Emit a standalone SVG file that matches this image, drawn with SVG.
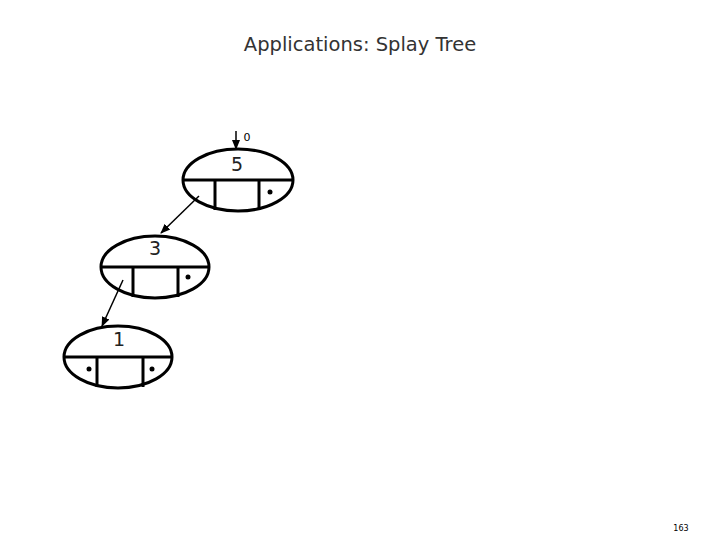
<svg xmlns="http://www.w3.org/2000/svg" width="720" height="540" viewBox="0 0 720 540">
<style>
.el{fill:none;stroke:#000;stroke-width:3}
.ln{stroke:#000;stroke-width:3}
.dot{fill:#000}
.lbl{font-family:"DejaVu Sans",sans-serif;font-size:19px;fill:#222;text-anchor:middle}
.con{stroke:#000;stroke-width:1.5;fill:none}
</style>
<defs>
<marker id="ah" markerWidth="10" markerHeight="10" refX="9" refY="5" orient="auto" markerUnits="userSpaceOnUse">
<path d="M0,1 L10,5 L0,9 Z" fill="#000"/>
</marker>
</defs>
<rect width="720" height="540" fill="#fff"/>
<text x="360" y="51" font-family="DejaVu Sans, sans-serif" font-size="19.5" fill="#333" text-anchor="middle">Applications: Splay Tree</text>
<text x="681" y="531" font-family="DejaVu Sans, sans-serif" font-size="8" fill="#000" text-anchor="middle">163</text>
<g id="connectors">
<line class="con" x1="236" y1="131" x2="236" y2="149" marker-end="url(#ah)" stroke-width="2"/>
<line class="con" x1="199" y1="196" x2="161" y2="233" marker-end="url(#ah)"/>
<line class="con" x1="123" y1="280" x2="102" y2="326" marker-end="url(#ah)"/>
</g>
<g id="root-pointer-label"><text x="247" y="141" font-family="DejaVu Sans, sans-serif" font-size="11" fill="#000" text-anchor="middle">0</text></g>
<g id="node5">
<ellipse class="el" cx="238" cy="180" rx="55" ry="31"/>
<line class="ln" x1="183" y1="180" x2="293" y2="180"/>
<line class="ln" x1="215" y1="180" x2="215" y2="210"/>
<line class="ln" x1="259" y1="180" x2="259" y2="210"/>
<circle class="dot" cx="270" cy="192" r="2.5"/>
<text class="lbl" x="237" y="171">5</text>
</g>
<g id="node3">
<ellipse class="el" cx="155" cy="267" rx="54" ry="31"/>
<line class="ln" x1="101" y1="267" x2="209" y2="267"/>
<line class="ln" x1="133" y1="267" x2="133" y2="297"/>
<line class="ln" x1="178" y1="267" x2="178" y2="297"/>
<circle class="dot" cx="188" cy="277" r="2.5"/>
<text class="lbl" x="155" y="255">3</text>
</g>
<g id="node1">
<ellipse class="el" cx="118" cy="357" rx="54" ry="31"/>
<line class="ln" x1="64" y1="357" x2="172" y2="357"/>
<line class="ln" x1="97" y1="357" x2="97" y2="387"/>
<line class="ln" x1="143" y1="357" x2="143" y2="387"/>
<circle class="dot" cx="89" cy="369" r="2.5"/>
<circle class="dot" cx="152" cy="369" r="2.5"/>
<text class="lbl" x="119" y="346">1</text>
</g>
</svg>
